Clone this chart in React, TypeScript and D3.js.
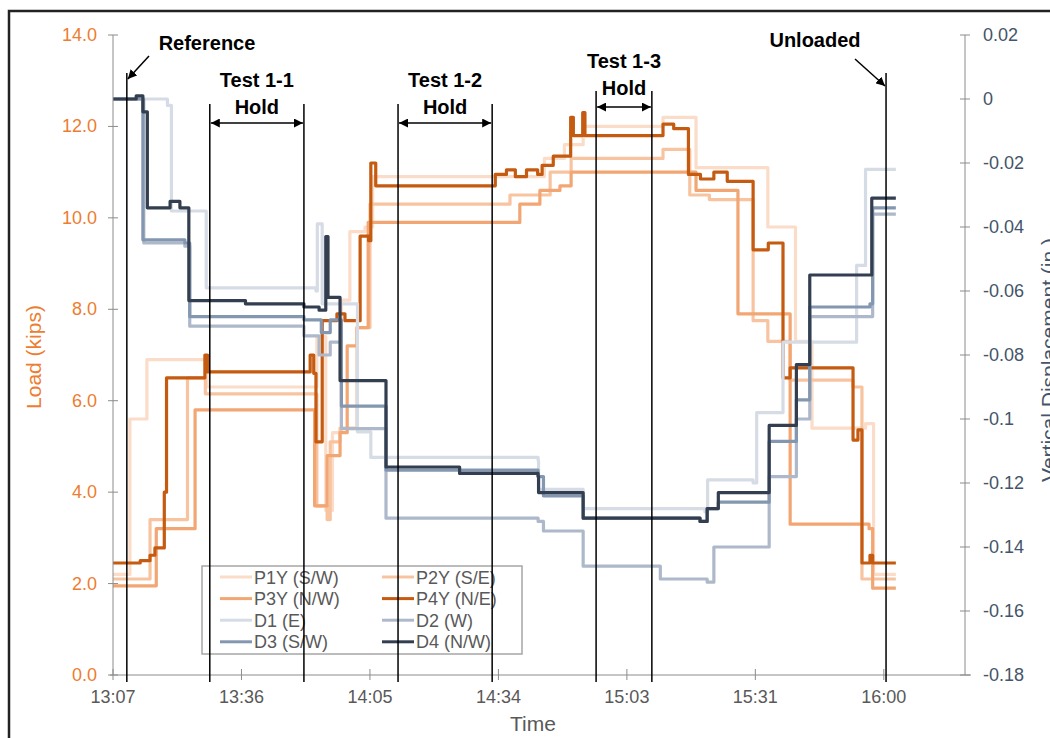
import React from 'react';
import * as d3 from 'd3';

const W = 1050;
const H = 738;
const plot = { left: 113, right: 965, top: 35, bottom: 675 };

// time is minutes after 13:00
const timeDomain = [7.3, 198.3];
const timeTicks = [7.3, 36.1, 64.9, 93.7, 122.5, 151.3, 180.1];
const timeTickLabels = ['13:07', '13:36', '14:05', '14:34', '15:03', '15:31', '16:00'];
const loadTicks = [0, 2, 4, 6, 8, 10, 12, 14];
const dispTicks = [0.02, 0, -0.02, -0.04, -0.06, -0.08, -0.1, -0.12, -0.14, -0.16, -0.18];
const dispTickLabels = ['0.02', '0', '-0.02', '-0.04', '-0.06', '-0.08', '-0.1', '-0.12', '-0.14', '-0.16', '-0.18'];

// [time, kips]
const p1y = [[7.3, 2.2], [11.1, 5.6], [14.9, 6.9], [27.9, 6.9], [28.4, 6.3], [50.1, 6.3], [53.0, 7.4], [55.0, 3.6], [56.5, 5.3], [58.5, 8.2], [60.4, 9.7], [63.8, 9.8], [65.5, 10.9], [95.0, 10.9], [104.0, 11.3], [108.5, 11.6], [112.7, 12.0], [130.6, 12.2], [138.0, 11.1], [154.1, 9.8], [160.3, 7.3], [164.0, 5.4], [176.0, 5.5], [177.8, 2.2], [182.8, 2.2]];
const p2y = [[7.3, 2.1], [15.6, 3.4], [24.0, 6.5], [28.0, 6.15], [50.1, 6.15], [53.0, 3.7], [55.3, 3.4], [56.0, 5.1], [58.2, 5.4], [62.0, 7.6], [64.9, 10.3], [94.0, 10.3], [96.3, 10.5], [105.3, 11.0], [110.0, 11.3], [130.6, 11.5], [136.6, 10.5], [141.0, 10.4], [150.8, 7.75], [154.1, 7.3], [159.1, 6.45], [173.2, 6.3], [175.2, 2.1], [182.8, 2.1]];
const p3y = [[7.3, 1.95], [17.0, 3.2], [25.7, 5.8], [50.1, 5.8], [52.5, 3.7], [55.3, 4.8], [58.2, 5.3], [59.8, 7.2], [62.0, 7.6], [64.5, 9.9], [94.0, 9.9], [98.5, 10.3], [103.0, 10.6], [107.5, 10.7], [110.0, 11.0], [136.6, 11.0], [138.0, 10.6], [147.4, 7.9], [159.1, 3.3], [176.8, 3.2], [177.6, 1.9], [182.8, 1.9]];
const p4y = [[7.3, 2.45], [13.4, 2.5], [15.6, 2.62], [16.7, 2.78], [18.8, 4.0], [19.3, 6.5], [27.9, 7.0], [28.5, 6.63], [50.1, 6.63], [51.5, 7.0], [52.3, 6.6], [52.8, 5.1], [54.2, 7.75], [57.5, 7.9], [59.3, 7.75], [62.7, 9.6], [64.6, 9.5], [65.1, 11.2], [66.2, 10.7], [93.0, 10.95], [95.5, 11.05], [97.5, 10.9], [100.0, 11.05], [102.5, 10.95], [103.5, 11.15], [106.0, 11.35], [109.9, 12.2], [110.5, 11.8], [112.6, 12.3], [113.1, 11.8], [130.6, 12.05], [133.0, 11.95], [136.3, 10.95], [139.0, 10.85], [142.0, 11.0], [145.0, 10.8], [150.8, 9.3], [154.2, 9.45], [157.5, 6.5], [159.1, 6.72], [173.2, 5.14], [174.3, 5.36], [175.2, 2.45], [177.0, 2.62], [177.6, 2.45], [182.8, 2.45]];

// [time, inches]
const d1 = [[7.3, 0], [19.5, -0.002], [20.4, -0.035], [27.9, -0.035], [28.2, -0.059], [52.8, -0.06], [53.1, -0.039], [54.2, -0.064], [62.0, -0.064], [62.1, -0.104], [65.1, -0.112], [102.6, -0.113], [102.7, -0.122], [112.7, -0.128], [140.0, -0.129], [140.6, -0.119], [150.8, -0.12], [151.6, -0.098], [157.5, -0.076], [174.0, -0.052], [176.0, -0.022], [182.8, -0.022]];
const d2 = [[7.3, 0], [14.2, -0.045], [23.4, -0.046], [24.5, -0.071], [50.1, -0.074], [53.5, -0.08], [56.0, -0.076], [58.5, -0.103], [68.5, -0.131], [102.6, -0.132], [103.8, -0.135], [112.7, -0.146], [130.0, -0.150], [140.5, -0.151], [142.0, -0.140], [154.4, -0.118], [160.5, -0.1], [163.5, -0.068], [177.0, -0.068], [177.6, -0.036], [182.8, -0.036]];
const d3s = [[7.3, 0], [14.0, -0.044], [23.4, -0.045], [24.5, -0.068], [50.1, -0.069], [54.0, -0.073], [56.0, -0.069], [58.5, -0.096], [68.5, -0.116], [102.6, -0.118], [103.8, -0.124], [112.7, -0.131], [138.9, -0.132], [140.5, -0.128], [143.0, -0.126], [154.4, -0.107], [160.5, -0.094], [163.5, -0.065], [177.0, -0.064], [177.6, -0.034], [182.8, -0.034]];
const d4 = [[7.3, 0], [12.5, 0.001], [14.0, -0.004], [15.0, -0.034], [20.1, -0.032], [22.3, -0.034], [24.3, -0.063], [37.0, -0.064], [50.1, -0.065], [53.5, -0.066], [55.0, -0.043], [55.5, -0.062], [58.2, -0.088], [68.5, -0.115], [85.0, -0.117], [102.6, -0.118], [102.7, -0.123], [112.7, -0.131], [138.9, -0.132], [140.5, -0.128], [143.0, -0.123], [154.4, -0.102], [160.5, -0.083], [163.5, -0.055], [177.4, -0.031], [182.8, -0.031]];

const loadSeries = [
  { name: 'P1Y (S/W)', data: p1y, color: '#FBDCC8' },
  { name: 'P2Y (S/E)', data: p2y, color: '#F8C4A0' },
  { name: 'P3Y (N/W)', data: p3y, color: '#F2A673' },
  { name: 'P4Y (N/E)', data: p4y, color: '#C55A11' },
];
const dispSeries = [
  { name: 'D1 (E)', data: d1, color: '#D6DCE5' },
  { name: 'D2 (W)', data: d2, color: '#ADB9CA' },
  { name: 'D3 (S/W)', data: d3s, color: '#8497B0' },
  { name: 'D4 (N/W)', data: d4, color: '#333F50' },
];

const holds = [
  { label: 'Test 1-1', start: 29.0, end: 50.1, top: 104, arrowY: 123, titleY: 87 },
  { label: 'Test 1-2', start: 71.2, end: 92.3, top: 104, arrowY: 123, titleY: 87 },
  { label: 'Test 1-3', start: 115.6, end: 128.1, top: 91, arrowY: 107, titleY: 68 },
];
const markers = [
  { label: 'Reference', t: 10.4, top: 73 },
  { label: 'Unloaded', t: 180.6, top: 73 },
];

const font = 'Liberation Sans, Arial, sans-serif';

export default function App() {
  const x = d3.scaleLinear().domain(timeDomain).range([plot.left, plot.right]);
  const yL = d3.scaleLinear().domain([0, 14]).range([plot.bottom, plot.top]);
  const yR = d3.scaleLinear().domain([-0.18, 0.02]).range([plot.bottom, plot.top]);

  const lineL = d3.line<number[]>().x(d => x(d[0])).y(d => yL(d[1])).curve(d3.curveStepAfter);
  const lineR = d3.line<number[]>().x(d => x(d[0])).y(d => yR(d[1])).curve(d3.curveStepAfter);

  const axisColor = '#8C8C8C';
  const legendItems = [...loadSeries, ...dispSeries];

  return (
    <svg width={W} height={H} style={{ position: 'absolute', left: 0, top: 0, background: '#fff' }} fontFamily={font}>
      <defs>
        <marker id="ah" viewBox="0 0 10 10" refX="10" refY="5" markerWidth="9" markerHeight="9" orient="auto-start-reverse" markerUnits="userSpaceOnUse">
          <path d="M0,0 L10,5 L0,10 z" fill="#000" />
        </marker>
      </defs>
      <rect x={9} y={11} width={1100} height={800} fill="none" stroke="#222" strokeWidth={2.5} />

      {/* series */}
      <g fill="none" strokeWidth={3.2} strokeLinejoin="round">
        {loadSeries.map(s => (
          <path key={s.name} d={lineL(s.data) || ''} stroke={s.color} />
        ))}
        {dispSeries.map(s => (
          <path key={s.name} d={lineR(s.data) || ''} stroke={s.color} />
        ))}
      </g>

      {/* left axis */}
      <line x1={plot.left} x2={plot.left} y1={plot.top} y2={plot.bottom} stroke={axisColor} />
      {loadTicks.map(t => (
        <g key={t}>
          <line x1={plot.left - 5} x2={plot.left + 5} y1={yL(t)} y2={yL(t)} stroke={axisColor} />
          <text x={97} y={yL(t) + 6} textAnchor="end" fontSize={18} fill="#ED7D31">{t.toFixed(1)}</text>
        </g>
      ))}
      {/* right axis */}
      <line x1={plot.right} x2={plot.right} y1={plot.top} y2={plot.bottom} stroke={axisColor} />
      {dispTicks.map((t, i) => (
        <g key={i}>
          <line x1={plot.right - 5} x2={plot.right + 5} y1={yR(t)} y2={yR(t)} stroke={axisColor} />
          <text x={983} y={yR(t) + 6} fontSize={18} fill="#44546A">{dispTickLabels[i]}</text>
        </g>
      ))}
      {/* bottom axis */}
      <line x1={plot.left - 3} x2={plot.right + 6} y1={plot.bottom} y2={plot.bottom} stroke={axisColor} />
      {timeTicks.map((t, i) => (
        <g key={i}>
          <line x1={x(t)} x2={x(t)} y1={plot.bottom - 6} y2={plot.bottom + 5} stroke={axisColor} />
          <text x={x(t)} y={703} textAnchor="middle" fontSize={18} fill="#595959">{timeTickLabels[i]}</text>
        </g>
      ))}

      <text x={533} y={731} textAnchor="middle" fontSize={21} fill="#595959">Time</text>
      <text transform="translate(41,357) rotate(-90)" textAnchor="middle" fontSize={21} fill="#ED7D31">Load (kips)</text>
      <text transform="translate(1056,360) rotate(-90)" textAnchor="middle" fontSize={21} fill="#44546A">Vertical Displacement (in.)</text>

      {/* legend */}
      <rect x={202} y={566} width={320} height={88} fill="#fff" stroke="#A6A6A6" strokeWidth={1.5} />
      {legendItems.map((s, i) => {
        const col = i % 2;
        const row = Math.floor(i / 2);
        const lx = col === 0 ? 220 : 382;
        const ly = 577 + row * 21.6;
        return (
          <g key={s.name}>
            <line x1={lx} x2={lx + 32} y1={ly} y2={ly} stroke={s.color} strokeWidth={3} />
            <text x={lx + 34} y={ly + 6.5} fontSize={18} fill="#595959">{s.name}</text>
          </g>
        );
      })}

      {/* annotations */}
      <g stroke="#000" strokeWidth={1.5}>
        {holds.map(h => (
          <g key={h.label}>
            <line x1={x(h.start)} x2={x(h.start)} y1={h.top} y2={682} />
            <line x1={x(h.end)} x2={x(h.end)} y1={h.top} y2={682} />
            <line x1={x(h.start) + 1} x2={x(h.end) - 1} y1={h.arrowY} y2={h.arrowY} markerStart="url(#ah)" markerEnd="url(#ah)" />
          </g>
        ))}
        {markers.map(m => (
          <line key={m.label} x1={x(m.t)} x2={x(m.t)} y1={m.top} y2={682} />
        ))}
        <line x1={149} y1={56} x2={x(10.4) + 1} y2={79} markerEnd="url(#ah)" />
        <line x1={855} y1={59} x2={x(180.6) - 1} y2={86} markerEnd="url(#ah)" />
      </g>
      <g fontWeight="bold" fontSize={20} fill="#000" textAnchor="middle">
        {holds.map(h => (
          <g key={h.label}>
            <text x={(x(h.start) + x(h.end)) / 2} y={h.titleY}>{h.label}</text>
            <text x={(x(h.start) + x(h.end)) / 2} y={h.titleY + 27}>Hold</text>
          </g>
        ))}
        <text x={207} y={50}>Reference</text>
        <text x={815} y={47}>Unloaded</text>
      </g>
    </svg>
  );
}
